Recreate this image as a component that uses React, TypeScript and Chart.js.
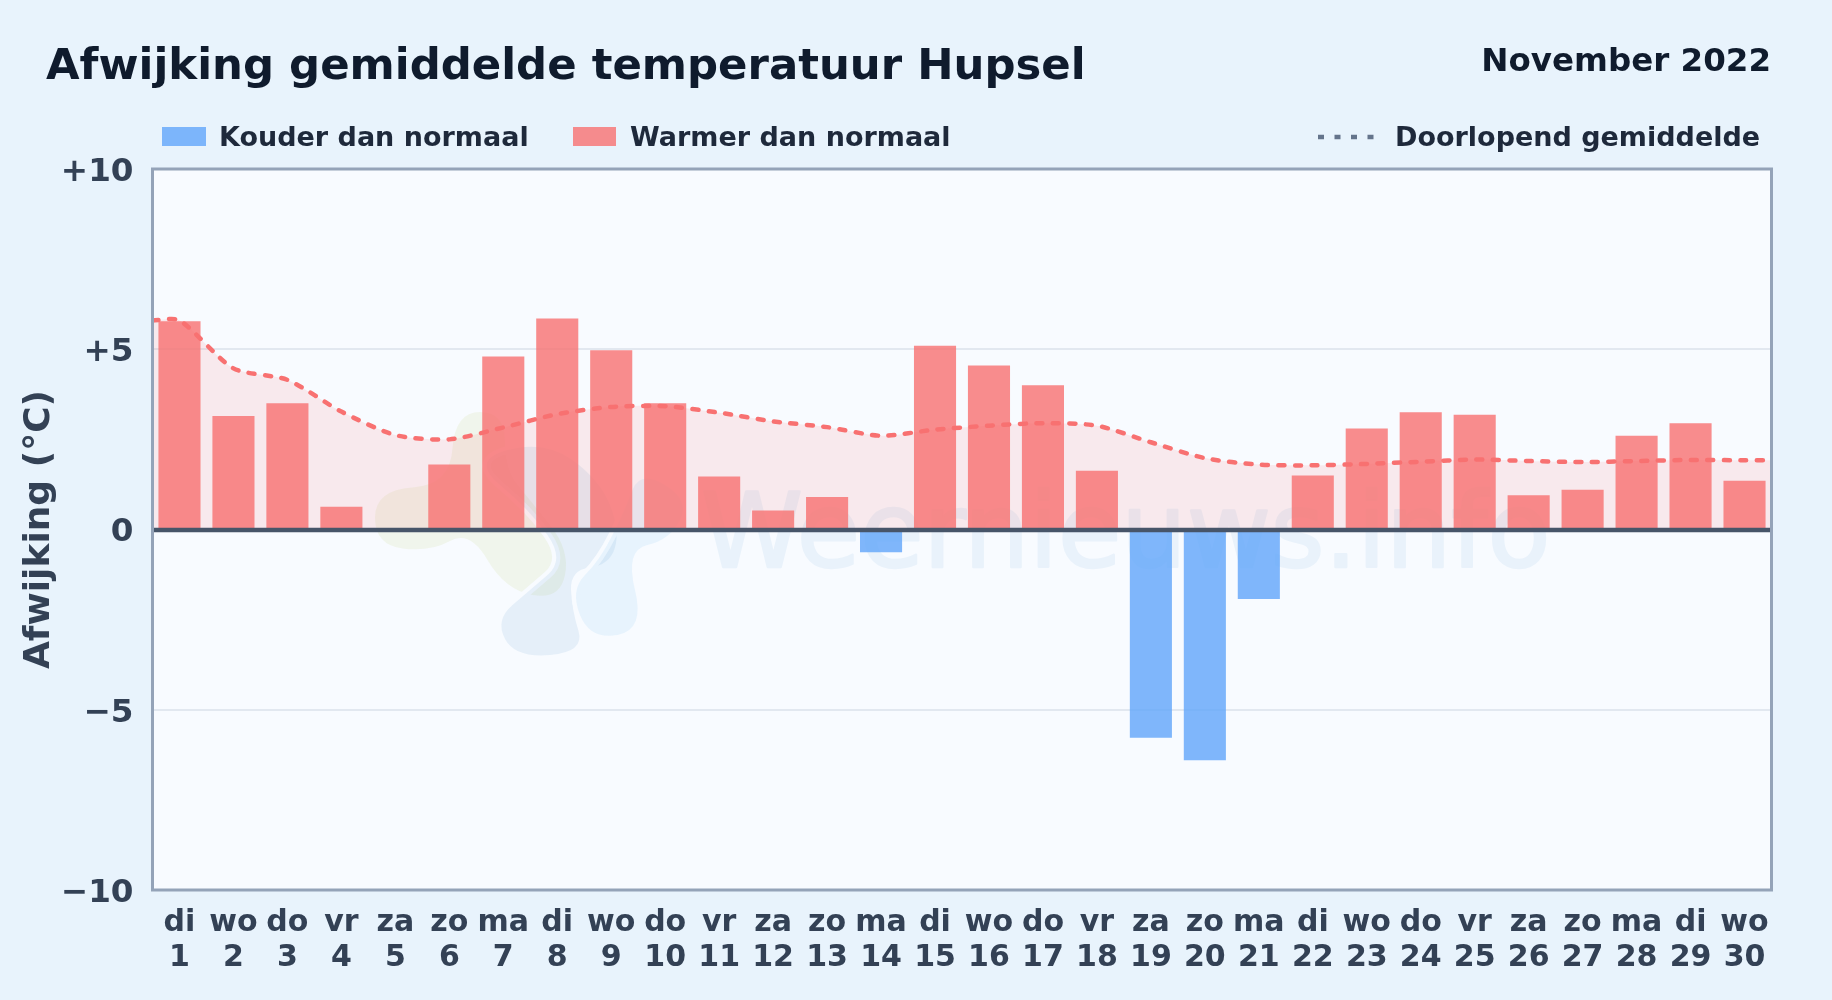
import React, { useEffect, useRef } from "react";
import { Chart, registerables } from "chart.js";

Chart.register(...registerables);

const weekdays = ["di","wo","do","vr","za","zo","ma","di","wo","do","vr","za","zo","ma","di","wo","do","vr","za","zo","ma","di","wo","do","vr","za","zo","ma","di","wo"];
const days = ["1","2","3","4","5","6","7","8","9","10","11","12","13","14","15","16","17","18","19","20","21","22","23","24","25","26","27","28","29","30"];
const deviation = [5.78,3.15,3.5,0.63,0,1.8,4.8,5.85,4.97,3.5,1.47,0.53,0.9,-0.63,5.1,4.55,4.0,1.63,-5.78,-6.4,-1.93,1.5,2.8,3.25,3.18,0.95,1.1,2.6,2.95,1.35];
const runningMean = [5.8,4.47,4.15,3.27,2.62,2.5,2.83,3.2,3.4,3.42,3.24,3.0,2.84,2.6,2.77,2.88,2.95,2.88,2.42,1.98,1.8,1.78,1.82,1.88,1.94,1.9,1.87,1.9,1.93,1.92];
const yTicks = [-10,-5,0,5,10];

const TITLE = "Afwijking gemiddelde temperatuur Hupsel";
const PERIOD = "November 2022";
const Y_TITLE = "Afwijking (°C)";
const LEG_COLD = "Kouder dan normaal";
const LEG_WARM = "Warmer dan normaal";
const LEG_MEAN = "Doorlopend gemiddelde";
const WATERMARK = "Weernieuws.info";

const FONT = '"DejaVu Sans"';
const COLD = "rgba(96,165,250,0.8)";
const WARM = "rgba(248,113,113,0.8)";
const MEAN = "#f87171";
const PLOT_BG = "#f8fbff";

const decoration = {
  id: "decoration",
  beforeDraw(chart: any) {
    const { ctx, chartArea: a } = chart;
    ctx.save();
    ctx.fillStyle = "#e8f3fc";
    ctx.fillRect(0, 0, chart.width, chart.height);
    ctx.fillStyle = PLOT_BG;
    ctx.fillRect(a.left, a.top, a.width, a.height);
    ctx.restore();
  },
  beforeDatasetsDraw(chart: any) {
    const { ctx } = chart;
    ctx.save();
    const blob = (color: string, pts: number[][]) => {
      const n = pts.length;
      ctx.beginPath();
      ctx.moveTo((pts[n - 1][0] + pts[0][0]) / 2, (pts[n - 1][1] + pts[0][1]) / 2);
      for (let i = 0; i < n; i++) {
        const q = pts[i], r = pts[(i + 1) % n];
        ctx.quadraticCurveTo(q[0], q[1], (q[0] + r[0]) / 2, (q[1] + r[1]) / 2);
      }
      ctx.closePath();
      ctx.strokeStyle = PLOT_BG;
      ctx.lineWidth = 8;
      ctx.stroke();
      ctx.fillStyle = color;
      ctx.fill();
    };
    blob("rgba(178,201,65,0.1)", [[455,412],[505,412],[505,470],[530,500],[570,550],[560,600],[505,590],[470,530],[430,552],[375,545],[375,490],[450,485]]);
    blob("rgba(68,141,195,0.1)", [[470,460],[545,440],[600,480],[620,530],[610,565],[570,570],[572,610],[585,652],[515,658],[495,620],[530,590],[565,560],[530,510]]);
    blob("rgba(88,181,235,0.1)", [[640,470],[690,500],[670,540],[625,550],[645,630],[590,640],[570,590],[600,560],[625,510]]);
    ctx.font = `400 103px ${FONT}`;
    ctx.fillStyle = "#e9f2fb";
    ctx.strokeStyle = "#e9f2fb";
    ctx.lineWidth = 2.5;
    ctx.lineJoin = "round";
    ctx.textAlign = "left";
    ctx.textBaseline = "alphabetic";
    ctx.strokeText(WATERMARK, 701, 567);
    ctx.fillText(WATERMARK, 701, 567);
    ctx.restore();
  },
  afterDatasetsDraw(chart: any) {
    const { ctx, chartArea: a, scales } = chart;
    ctx.save();
    const zero = scales.y.getPixelForValue(0) + 0.5;
    ctx.strokeStyle = "#475569";
    ctx.lineWidth = 4.5;
    ctx.beginPath();
    ctx.moveTo(a.left, zero);
    ctx.lineTo(a.right, zero);
    ctx.stroke();
    ctx.strokeStyle = "#94a3b8";
    ctx.lineWidth = 3;
    ctx.strokeRect(a.left, a.top, a.width, a.height);

    ctx.textBaseline = "alphabetic";
    ctx.fillStyle = "#0f1b2d";
    ctx.textAlign = "left";
    ctx.font = `700 43.4px ${FONT}`;
    ctx.fillText(TITLE, 46, 79);
    ctx.textAlign = "right";
    ctx.font = `700 32.5px ${FONT}`;
    ctx.fillText(PERIOD, 1771, 71);

    ctx.textAlign = "left";
    ctx.font = `700 27px ${FONT}`;
    ctx.fillStyle = "#1e293b";
    ctx.fillText(LEG_COLD, 219, 146);
    ctx.fillText(LEG_WARM, 630, 146);
    ctx.fillText(LEG_MEAN, 1395, 146);
    ctx.fillStyle = COLD;
    ctx.fillRect(162, 127, 44, 19);
    ctx.fillStyle = WARM;
    ctx.fillRect(573, 127, 43, 19);
    ctx.strokeStyle = "#64748b";
    ctx.lineWidth = 4.5;
    ctx.setLineDash([6, 10.5]);
    ctx.beginPath();
    ctx.moveTo(1318, 137);
    ctx.lineTo(1374, 137);
    ctx.stroke();
    ctx.restore();
  },
};

export default function App() {
  const ref = useRef<HTMLCanvasElement>(null);
  useEffect(() => {
    const chart = new Chart(ref.current!, {
      type: "bar",
      data: {
        labels: weekdays.map((w, i) => [w, days[i]]),
        datasets: [
          {
            type: "line",
            label: LEG_MEAN,
            xAxisID: "xMean",
            order: 0,
            data: [
              { x: -0.5, y: runningMean[0] },
              ...runningMean.map((y, x) => ({ x, y })),
              { x: runningMean.length - 0.5, y: runningMean[runningMean.length - 1] },
            ],
            borderColor: MEAN,
            borderWidth: 4.5,
            borderDash: [6, 10.5],
            borderCapStyle: "round",
            tension: 0.25,
            pointRadius: 0,
            fill: { target: { value: 0 }, above: "rgba(248,113,113,0.13)", below: "rgba(248,113,113,0.13)" },
          } as any,
          {
            type: "bar",
            label: LEG_WARM,
            order: 1,
            data: deviation,
            backgroundColor: deviation.map((v) => (v < 0 ? COLD : WARM)),
            grouped: false,
            barPercentage: 0.78,
            categoryPercentage: 1,
          },
        ],
      },
      options: {
        responsive: false,
        animation: false,
        layout: { padding: { left: 0, top: 169, right: 60.5, bottom: 0 } },
        plugins: { legend: { display: false }, title: { display: false }, tooltip: { enabled: false } },
        scales: {
          x: {
            type: "category",
            offset: true,
            grid: { display: false },
            border: { display: false },
            ticks: {
              maxRotation: 0,
              autoSkip: false,
              padding: 8,
              color: "#334155",
              font: { family: FONT, weight: "bold", size: 30, lineHeight: 1.15 },
            },
            afterFit: (s: any) => { s.height = 110; },
          },
          xMean: { type: "linear", display: false, offset: false, min: -0.5, max: 29.5, grid: { display: false } },
          y: {
            min: -10,
            max: 10,
            afterBuildTicks: (s: any) => { s.ticks = yTicks.map((value) => ({ value })); },
            grid: {
              color: (c: any) => (c.tick && c.tick.value === 0 ? "transparent" : "#e2e8f0"),
              lineWidth: 2,
              drawTicks: false,
            },
            border: { display: false },
            ticks: {
              padding: 19,
              labelOffset: 3.5,
              color: "#334155",
              font: { family: FONT, weight: "bold", size: 32.6 },
              callback: (v: any) => (v > 0 ? `+${v}` : v < 0 ? `\u2212${Math.abs(v)}` : "0"),
            },
            title: {
              display: true,
              text: Y_TITLE,
              color: "#334155",
              font: { family: FONT, weight: "bold", size: 36 },
              padding: { top: 18, bottom: 0 },
            },
            afterFit: (s: any) => { s.width = 152.5; },
          },
        },
      },
      plugins: [decoration],
    } as any);
    return () => chart.destroy();
  }, []);
  return (
    <div style={{ position: "fixed", left: 0, top: 0, width: 1832, height: 1000 }}>
      <canvas ref={ref} width={1832} height={1000} style={{ display: "block" }} />
    </div>
  );
}
